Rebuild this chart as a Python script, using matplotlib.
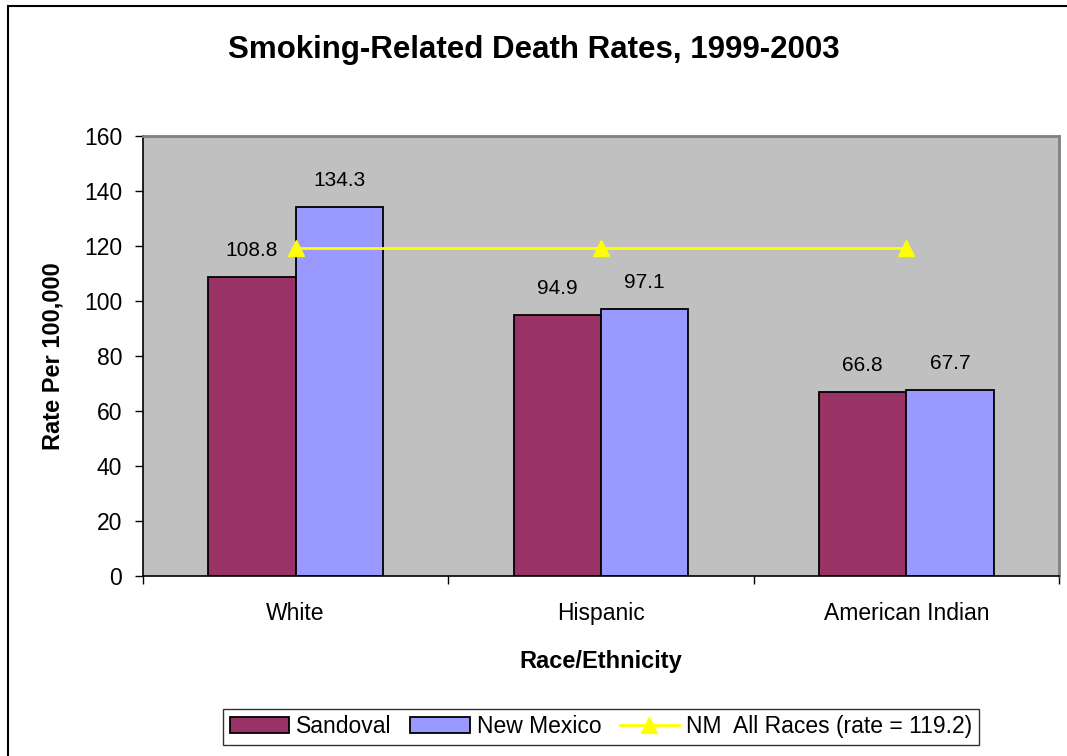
import matplotlib.pyplot as plt
import numpy as np
from matplotlib.patches import Rectangle

plt.rcParams['font.family'] = ['Liberation Sans', 'DejaVu Sans']

# Death rates per 100,000 by race/ethnicity
categories = ['White', 'Hispanic', 'American Indian']
sandoval = [108.8, 94.9, 66.8]
new_mexico = [134.3, 97.1, 67.7]
nm_all_races = 119.2

fig = plt.figure(figsize=(10.67, 7.56), dpi=100)
ax = fig.add_axes([0.134, 0.238, 0.8585, 0.582])
ax.set_facecolor('#C0C0C0')

x = np.arange(len(categories))
width = 1 / 3.5

b1 = ax.bar(x - width / 2, sandoval, width, color='#993366', edgecolor='black',
            linewidth=1.3, label='Sandoval', zorder=2)
b2 = ax.bar(x + width / 2, new_mexico, width, color='#9999FF', edgecolor='black',
            linewidth=1.3, label='New Mexico', zorder=2)
line, = ax.plot(x, [nm_all_races] * len(x), color='#FFFF00', linewidth=2,
                marker='^', markersize=11, markeredgecolor='#FFFF00',
                label='NM  All Races (rate = 119.2)', zorder=3)

for bars, vals in ((b1, sandoval), (b2, new_mexico)):
    for bar, v in zip(bars, vals):
        ax.annotate(f'{v:.1f}', (bar.get_x() + bar.get_width() / 2, v),
                    xytext=(0, 19), textcoords='offset points',
                    ha='center', va='center', fontsize=15)

ax.set_xlim(-0.5, 2.5)
ax.set_ylim(0, 160)
ax.set_yticks(np.arange(0, 161, 20))
ax.tick_params(axis='y', labelsize=16.5, direction='out', length=6, width=1, pad=9)
ax.set_xticks([-0.5, 0.5, 1.5, 2.5])
ax.set_xticklabels([])
ax.set_xticks(x, minor=True)
ax.set_xticklabels(categories, minor=True, fontsize=16.5)
ax.tick_params(axis='x', which='major', direction='out', length=6, width=1)
ax.tick_params(axis='x', which='minor', length=0, pad=19)

for side in ('left', 'bottom'):
    ax.spines[side].set_color('black')
    ax.spines[side].set_linewidth(1.2)
for side in ('top', 'right'):
    ax.spines[side].set_color('#808080')
    ax.spines[side].set_linewidth(2)

ax.set_ylabel('Rate Per 100,000', fontsize=17, fontweight='bold', labelpad=14)
ax.set_xlabel('Race/Ethnicity', fontsize=17, fontweight='bold', labelpad=18)
fig.text(0.5, 0.934, 'Smoking-Related Death Rates, 1999-2003', ha='center',
         va='center', fontsize=22.5, fontweight='bold')

leg = ax.legend(handles=[b1, b2, line], loc='center', bbox_to_anchor=(0.5, -0.343),
                ncol=3, frameon=True, fancybox=False, fontsize=16.5,
                edgecolor='black', handlelength=2.6, handletextpad=0.3,
                columnspacing=0.8, borderpad=0.3)
leg.get_frame().set_linewidth(1)

# outer chart frame
fig.patches.append(Rectangle((8 / 1067, -0.1), 1.2, 1 - 6 / 756 + 0.1,
                             transform=fig.transFigure, fill=False,
                             edgecolor='black', linewidth=1.5))

fig.savefig('out.png', dpi=100)
